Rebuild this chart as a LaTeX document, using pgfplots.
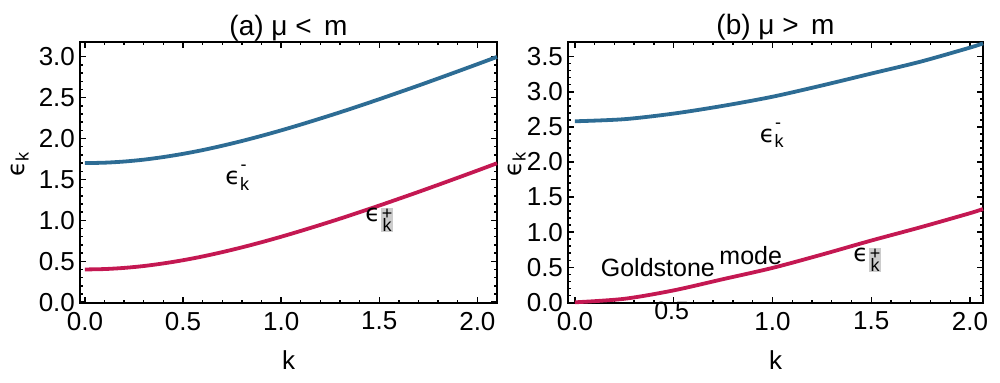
\documentclass[border=0pt]{standalone}
\usepackage{pgfplots}
\pgfplotsset{compat=1.18}
\usepackage{fontspec}
\setmainfont{Liberation Sans}
\newfontfamily\dejavu{DejaVu Sans}
\definecolor{cblue}{RGB}{45,108,148}
\definecolor{cred}{RGB}{196,24,82}
\newcommand{\epsm}{{\dejavu ϵ}\raisebox{-0.45ex}{\small k}\kern-0.35em\raisebox{1.1ex}{\small -}}
\newcommand{\epsp}{{\dejavu ϵ}\kern0.5pt\raisebox{-5pt}{\fboxsep=0.4pt\colorbox{black!20}{\shortstack[c]{\small +\\[-3.5pt]\small k}}}}
\pgfplotsset{
  every axis title shift=0pt,
  mystyle/.style={
    scale only axis,
    anchor=south west,
    height=130.5pt,
    axis line style={line width=1pt},
    tick align=inside,
    major tick length=3pt,
    minor tick length=1.6pt,
    every tick/.style={black, line width=0.7pt},
    minor tick num=4,
    tick label style={font=\fontsize{13}{15}\selectfont},
    /pgf/number format/assume math mode=true,
    /pgf/number format/.cd, fixed, fixed zerofill, precision=1,
    /pgfplots/.cd,
    xtick={0,0.5,1.0,1.5,2.0},
    xticklabel style={yshift=-1pt},
    yticklabel style={xshift=1pt},
    every axis x label/.style={at={(rel axis cs:0.5,0)}, anchor=center, yshift=-28.5pt, font=\fontsize{13}{15}\selectfont},
    title style={at={(rel axis cs:0.5,1)}, anchor=base, yshift=3.5pt, font=\fontsize{14}{16}\selectfont},
    clip=false,
  }
}
\begin{document}
\begin{tikzpicture}
\useasboundingbox (0,0) rectangle (500pt,191pt);
\begin{axis}[mystyle,
  at={(40pt,39.5pt)}, width=208.5pt,
  xmin=-0.025, xmax=2.1, ymin=-0.01, ymax=3.18,
  ytick={0,0.5,1.0,1.5,2.0,2.5,3.0},
  title={(a) μ <\, m},
  xlabel={k},
  every axis y label/.style={at={(rel axis cs:0,0.53)}, xshift=-30pt, rotate=90, anchor=center, font=\fontsize{12}{14}\selectfont},
  ylabel={{\dejavu ϵ}\raisebox{-0.3ex}{\small k}},
]
\addplot[cblue, line width=1.9pt, smooth] coordinates {
(0,1.700)(0.1,1.705)(0.2,1.719)(0.3,1.742)(0.4,1.774)(0.5,1.813)(0.6,1.859)(0.7,1.912)(0.8,1.970)(0.9,2.033)(1.0,2.100)(1.1,2.171)(1.2,2.245)(1.3,2.321)(1.4,2.400)(1.5,2.481)(1.6,2.564)(1.7,2.648)(1.8,2.734)(1.9,2.821)(2.0,2.909)(2.1,2.998)};
\addplot[cred, line width=1.9pt, smooth] coordinates {
(0,0.400)(0.1,0.405)(0.2,0.419)(0.3,0.442)(0.4,0.474)(0.5,0.513)(0.6,0.559)(0.7,0.612)(0.8,0.670)(0.9,0.733)(1.0,0.800)(1.1,0.871)(1.2,0.945)(1.3,1.021)(1.4,1.100)(1.5,1.181)(1.6,1.264)(1.7,1.348)(1.8,1.434)(1.9,1.521)(2.0,1.609)(2.1,1.698)};
\node[font=\fontsize{12}{14}\selectfont] at (axis cs:0.77,1.52) {\epsm};
\node[font=\fontsize{12}{14}\selectfont] at (axis cs:1.50,1.00) {\epsp};
\end{axis}
\begin{axis}[mystyle,
  at={(284pt,39.5pt)}, width=207.5pt,
  xmin=-0.035, xmax=2.066, ymin=-0.01, ymax=3.71,
  xticklabels={0.0,,1.0,1.5,2.0},
  ytick={0,0.5,1.0,1.5,2.0,2.5,3.0,3.5},
  title={(b) μ >\, m},
  xlabel={k},
  every axis y label/.style={at={(rel axis cs:0,0.53)}, xshift=-25.5pt, rotate=90, anchor=center, font=\fontsize{12}{14}\selectfont},
  ylabel={{\dejavu ϵ}\raisebox{-0.3ex}{\small k}},
]
\addplot[cblue, line width=1.9pt, smooth] coordinates {
(0,2.58)(0.25,2.61)(0.5,2.69)(0.75,2.80)(1.0,2.93)(1.25,3.09)(1.5,3.26)(1.75,3.43)(2.0,3.63)(2.066,3.69)};
\addplot[cred, line width=1.9pt, smooth] coordinates {
(0,0)(0.25,0.05)(0.5,0.17)(0.75,0.33)(1.0,0.49)(1.25,0.68)(1.5,0.88)(1.75,1.07)(2.0,1.27)(2.066,1.33)};
\node[font=\fontsize{12}{14}\selectfont] at (axis cs:0.99,2.38) {\epsm};
\node[font=\fontsize{12}{14}\selectfont] at (axis cs:1.48,0.60) {\epsp};
\node[font=\fontsize{12.5}{14}\selectfont] at (axis cs:0.42,0.49) {Goldstone};
\node[font=\fontsize{12.5}{14}\selectfont] at (axis cs:0.89,0.66) {mode};
\node[font=\fontsize{12.5}{14}\selectfont] at (axis cs:0.49,-0.12) {0.5};
\end{axis}
\end{tikzpicture}
\end{document}
